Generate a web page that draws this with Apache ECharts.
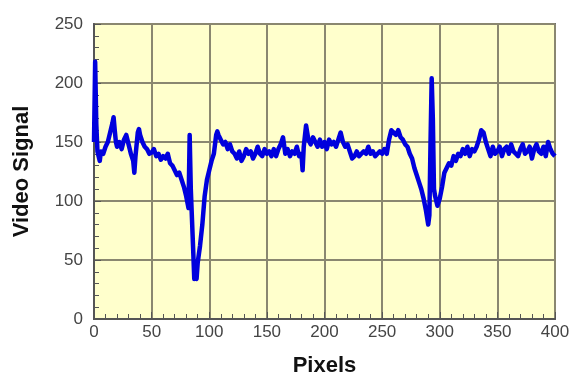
<!DOCTYPE html>
<html>
<head>
<meta charset="utf-8">
<script src="https://cdn.jsdelivr.net/npm/echarts@6/dist/echarts.min.js"></script>
<style>
  html, body { margin: 0; padding: 0; background: #ffffff; }
  #chart { width: 574px; height: 382px; }
</style>
</head>
<body>
<div id="chart"></div>
<script>
// Pixel positions along the scan line
const pixels = [
  0, 1, 2, 3, 4, 5, 6, 8, 10, 12, 14, 16, 17, 18, 19, 20, 22, 24, 26, 28, 30, 32, 34, 35, 36, 38, 39, 40,
  42, 44, 46, 48, 50, 52, 54, 56, 58, 60, 62, 64, 66, 68, 70, 72, 74, 76, 78, 80, 82, 83, 84, 86,
  87, 88, 89, 90, 92, 94, 96, 98, 100, 102, 104, 106, 107, 108, 110, 112, 114, 116, 118, 120,
  122, 124, 126, 128, 130, 132, 134, 136, 138, 140, 142, 144, 146, 148, 150, 152, 154, 156, 158,
  160, 162, 164, 166, 168, 170, 172, 174, 176, 178, 180, 181, 182, 184, 186, 188, 190, 192, 194,
  196, 198, 200, 202, 204, 206, 208, 210, 212, 214, 216, 218, 220, 222, 224, 226, 228, 230, 232,
  234, 236, 238, 240, 242, 244, 246, 248, 250, 252, 254, 256, 258, 260, 262, 264, 266, 268, 270,
  272, 274, 276, 278, 280, 282, 284, 286, 288, 290, 291, 292, 293, 294, 295, 296, 298, 300, 302,
  304, 306, 308, 310, 312, 314, 316, 318, 320, 322, 324, 326, 328, 330, 332, 334, 336, 338, 340,
  342, 344, 346, 348, 350, 352, 354, 356, 358, 360, 362, 364, 366, 368, 370, 372, 374, 376, 378,
  380, 382, 384, 386, 388, 390, 392, 394, 396, 398, 400
];

// Video signal level at each pixel
const signal = [
  150, 218, 165, 142, 138, 134, 142, 140, 146, 150, 158, 166, 171, 160, 150, 146, 150, 144, 152, 156, 148, 140, 134, 124, 138, 158, 161, 156,
  150, 146, 144, 140, 141, 144, 138, 140, 135, 138, 136, 140, 132, 130, 126, 122, 124, 118, 112, 104, 94, 156, 110, 60,
  34, 36, 34, 48, 62, 80, 104, 118, 126, 134, 140, 156, 159, 156, 152, 148, 150, 144, 148, 142,
  140, 136, 142, 134, 138, 144, 140, 142, 136, 140, 146, 140, 138, 144, 140, 142, 138, 144, 138,
  144, 148, 154, 140, 144, 138, 142, 140, 146, 138, 140, 126, 146, 164, 152, 148, 154, 150, 146,
  152, 146, 150, 144, 152, 148, 150, 146, 152, 158, 150, 146, 148, 142, 136, 138, 142, 138, 140,
  142, 140, 146, 140, 142, 138, 140, 142, 140, 144, 140, 152, 160, 158, 156, 160, 154, 152, 148,
  146, 140, 136, 128, 122, 116, 110, 102, 92, 80, 88, 150, 204, 170, 110, 104, 96, 102, 112,
  124, 128, 132, 130, 138, 134, 140, 138, 144, 140, 146, 138, 144, 142, 146, 152, 160, 158, 150,
  144, 138, 146, 140, 142, 146, 138, 144, 146, 140, 148, 142, 140, 138, 144, 148, 140, 142, 146,
  136, 144, 148, 142, 140, 146, 138, 150, 144, 140, 138
];

// Axis tick labels
const xTicks = ['0', '50', '100', '150', '200', '250', '300', '350', '400'];
const yTicks = ['0', '50', '100', '150', '200', '250'];

const gridColor = '#8a8770';
const labelFont = { fontFamily: 'Liberation Sans', fontSize: 17, color: '#444444' };
const titleFont = { fontFamily: 'Liberation Sans', fontSize: 22, fontWeight: 'bold', color: '#111111' };

const chart = echarts.init(document.getElementById('chart'), null, { renderer: 'canvas' });

chart.setOption({
  animation: false,
  backgroundColor: '#ffffff',
  grid: {
    left: 94, right: 19, top: 24, bottom: 54,
    show: true,
    backgroundColor: '#ffffcc',
    borderColor: '#6e6e6e',
    borderWidth: 2
  },
  xAxis: {
    type: 'value',
    min: 0, max: 400, interval: 50,
    name: 'Pixels',
    nameLocation: 'middle',
    nameGap: 36,
    nameTextStyle: titleFont,
    axisLine: { show: true, lineStyle: { color: '#555555', width: 2 } },
    axisTick: { show: true, inside: true, length: 7, lineStyle: { color: '#555555' } },
    minorTick: { show: true, splitNumber: 5, length: 5, lineStyle: { color: '#555555' } },
    splitLine: { show: true, lineStyle: { color: gridColor, width: 2 } },
    axisLabel: Object.assign({
      margin: 5,
      formatter: v => xTicks[Math.round(v / 50)]
    }, labelFont)
  },
  yAxis: {
    type: 'value',
    min: 0, max: 250, interval: 50,
    name: 'Video Signal',
    nameLocation: 'middle',
    nameGap: 61,
    nameTextStyle: titleFont,
    axisLine: { show: true, lineStyle: { color: '#555555', width: 2 } },
    axisTick: { show: true, inside: true, length: 7, lineStyle: { color: '#555555' } },
    minorTick: { show: true, splitNumber: 5, length: 5, lineStyle: { color: '#555555' } },
    splitLine: { show: true, lineStyle: { color: gridColor, width: 2 } },
    axisLabel: Object.assign({
      margin: 11,
      formatter: v => yTicks[Math.round(v / 50)]
    }, labelFont)
  },
  series: [{
    type: 'line',
    data: pixels.map((p, i) => [p, signal[i]]),
    showSymbol: false,
    symbol: 'none',
    lineStyle: { color: '#0000dd', width: 4.5, join: 'round' }
  }]
});
</script>
</body>
</html>
